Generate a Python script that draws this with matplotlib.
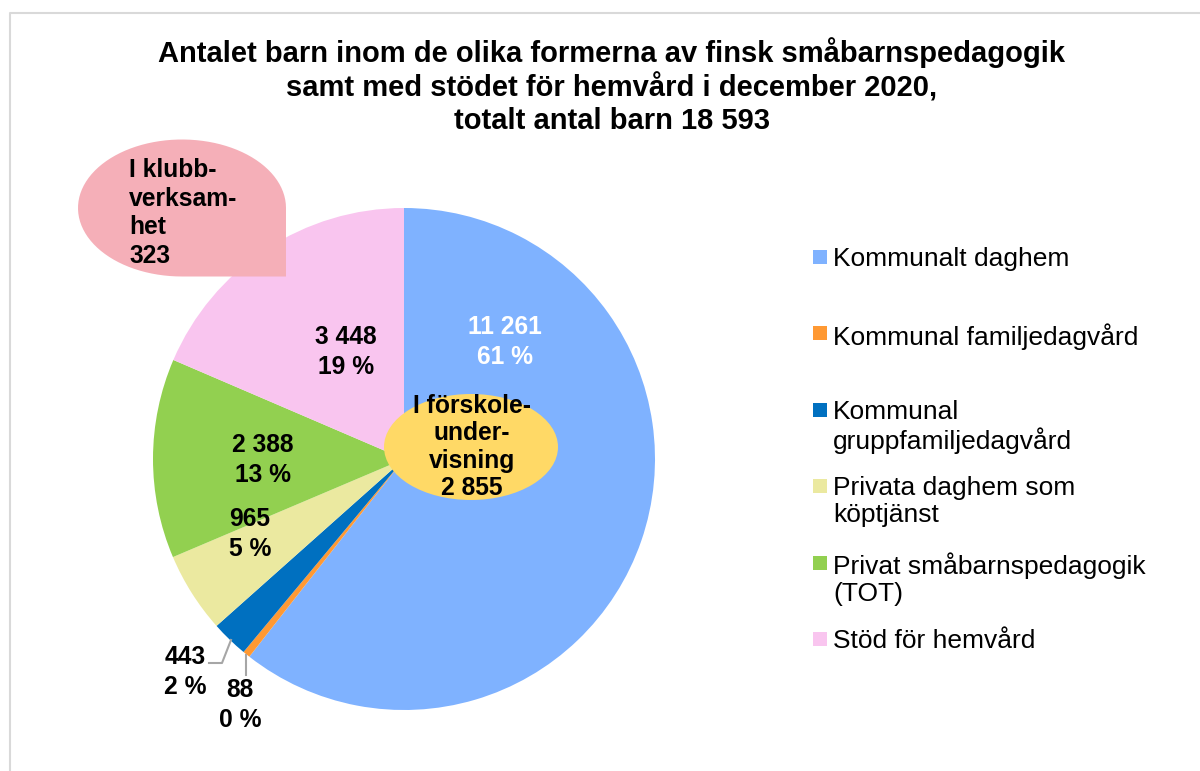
import numpy as np
import matplotlib.pyplot as plt
from matplotlib.patches import Ellipse, Polygon

plt.rcParams['font.family'] = ['Liberation Sans', 'DejaVu Sans']

# data
kategorier = ['Kommunalt daghem', 'Kommunal familjedagvård',
              'Kommunal\ngruppfamiljedagvård', 'Privata daghem som\nköptjänst',
              'Privat småbarnspedagogik\n(TOT)', 'Stöd för hemvård']
antal = [11261, 88, 443, 965, 2388, 3448]
farger = ['#7FB2FF', '#FF9933', '#0070C0', '#EBE9A0', '#92D050', '#F9C5EF']
etikett_farg = ['white', 'black', 'black', 'black', 'black', 'black']
# label positions in pixels (x, y from top)
etikett_pos = [(505, 342), (240, 705), (185, 672), (250, 534), (263, 460), (346, 352)]

forskole = 2855
klubb = 323

titel = ('Antalet barn inom de olika formerna av finsk småbarnspedagogik\n'
         'samt med stödet för hemvård i december 2020,\n'
         'totalt antal barn 18 593')

W, H = 1200, 771


def fmt(n):
    return f'{n:,}'.replace(',', ' ')


def py(y):
    # pixel y (from top) -> axis y
    return H - y


fig = plt.figure(figsize=(12, 7.71), dpi=100)
ax = fig.add_axes([0, 0, 1, 1])

# frame (only top and left visible)
ax.plot([10, 10, W], [0, py(13), py(13)], color='#D9D9D9', lw=1.5)

ax.text(612, py(86), titel, ha='center', va='center', fontsize=21,
        fontweight='bold', linespacing=1.2)

cx, cy, r = 404, py(459), 251
ax.pie(antal, colors=farger, startangle=90, counterclock=False,
       center=(cx, cy), radius=r, wedgeprops=dict(linewidth=0),
       frame=True)
ax.set_xlim(0, W)
ax.set_ylim(0, H)
ax.set_aspect('equal')
ax.axis('off')

total = sum(antal)
for v, (lx, ly), c in zip(antal, etikett_pos, etikett_farg):
    ax.text(lx, py(ly), f'{fmt(v)}\n{round(v / total * 100)} %', ha='center',
            va='center', fontsize=17.7, fontweight='bold', color=c,
            linespacing=1.28)

# leader lines for small slices
ax.plot([209, 222, 231], [py(663), py(663), py(640)], color='#A6A6A6', lw=1.5)
ax.plot([246, 246], [py(655), py(675)], color='#A6A6A6', lw=1.5)

# callout: förskoleundervisning
ax.add_patch(Ellipse((471, py(447)), 174, 106, color='#FFD966', lw=0))
ax.text(472, py(447), f'I förskole-\nunder-\nvisning\n{fmt(forskole)}',
        ha='center', va='center', fontsize=17.7, fontweight='bold',
        linespacing=1.19)

# callout: klubbverksamhet (bubble with square lower right corner)
bx, by, rx, ry = 182, py(208), 104, 68.5
t = np.linspace(0, 1.5 * np.pi, 80)
pts = list(zip(bx + rx * np.cos(t), by + ry * np.sin(t)))
pts.append((bx + rx, by - ry))
ax.add_patch(Polygon(pts, closed=True, color='#F5AFB8', lw=0))
ax.text(129, py(158), f'I klubb-\nverksam-\nhet\n{fmt(klubb)}', ha='left',
        va='top', fontsize=17.7, fontweight='bold', linespacing=1.24)

# legend
for i, (lab, col) in enumerate(zip(kategorier, farger)):
    yy = py(257 + 76.4 * i)
    ax.scatter(820, yy, marker='s', s=100, color=col, lw=0)
    ax.text(833, yy + 10, lab, ha='left', va='top', fontsize=19,
            linespacing=1.15)

fig.savefig('out.png', dpi=100)
